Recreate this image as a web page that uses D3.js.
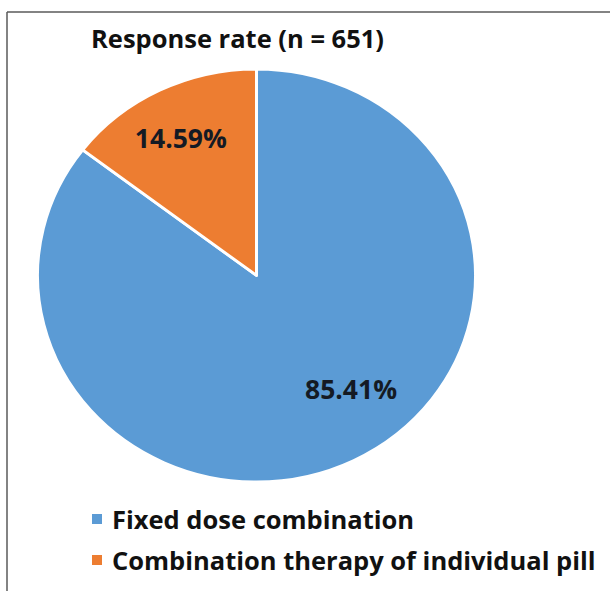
<!DOCTYPE html>
<html>
<head>
<meta charset="utf-8">
<script src="https://cdn.jsdelivr.net/npm/d3@7"></script>
<style>
  html, body { margin: 0; padding: 0; background: #fff; }
  svg { display: block; }
  text { font-family: "Open Sans", "DejaVu Sans", sans-serif; font-weight: 700; }
</style>
</head>
<body>
<svg id="chart" width="610" height="591"></svg>
<script>
// Survey responses by treatment form
const categories = ["Fixed dose combination", "Combination therapy of individual pill"];
const shares = [85.41, 14.59];
const percentLabels = ["85.41%", "14.59%"];
const colors = ["#5B9BD5", "#ED7D31"];
const title = "Response rate (n = 651)";

const svg = d3.select("#chart");
const W = 610, H = 591;

// frame lines along top and left
svg.append("line").attr("x1", 7).attr("y1", 12).attr("x2", W).attr("y2", 12)
  .attr("stroke", "#5a5a5a").attr("stroke-width", 1.5);
svg.append("line").attr("x1", 7).attr("y1", 12).attr("x2", 7).attr("y2", H)
  .attr("stroke", "#5a5a5a").attr("stroke-width", 1.5);

svg.append("text")
  .attr("x", 91).attr("y", 38)
  .attr("dominant-baseline", "central")
  .attr("font-size", 25.5)
  .attr("fill", "#111")
  .text(title);

const cx = 256.5, cy = 275.5, r = 219, squash = 0.943;

const pie = d3.pie().sort(null).value(d => d.value);
const arcs = pie(categories.map((c, i) => ({ name: c, value: shares[i], label: percentLabels[i], color: colors[i] })));
const arc = d3.arc().innerRadius(0).outerRadius(r);

const g = svg.append("g").attr("transform", `translate(${cx},${cy}) scale(1,${squash})`);
g.selectAll("path").data(arcs).join("path")
  .attr("d", arc)
  .attr("fill", d => d.data.color)
  .attr("stroke", "#fff")
  .attr("stroke-width", 3)
  .attr("stroke-linejoin", "round");

// percentage labels: radial distance (fraction of radius) and angular nudge from mid-angle
const labelRadius = [0.70, 0.75];
const labelNudge = [-0.206, -0.02];
arcs.forEach((d, i) => {
  const a = (d.startAngle + d.endAngle) / 2 + labelNudge[i];
  const lr = r * labelRadius[i];
  const x = cx + Math.sin(a) * lr;
  const y = cy - Math.cos(a) * lr * squash;
  svg.append("text")
    .attr("x", x).attr("y", y)
    .attr("text-anchor", "middle")
    .attr("dominant-baseline", "central")
    .attr("font-size", 26.5)
    .attr("fill", "#141a24")
    .text(d.data.label);
});

// legend
const legend = svg.append("g");
const rows = [519, 560];
categories.forEach((c, i) => {
  legend.append("rect")
    .attr("x", 92).attr("y", rows[i] - 5).attr("width", 10).attr("height", 10)
    .attr("fill", colors[i]);
  legend.append("text")
    .attr("x", 112).attr("y", rows[i])
    .attr("dominant-baseline", "central")
    .attr("font-size", 25.5)
    .attr("fill", "#111")
    .text(c);
});
</script>
</body>
</html>
